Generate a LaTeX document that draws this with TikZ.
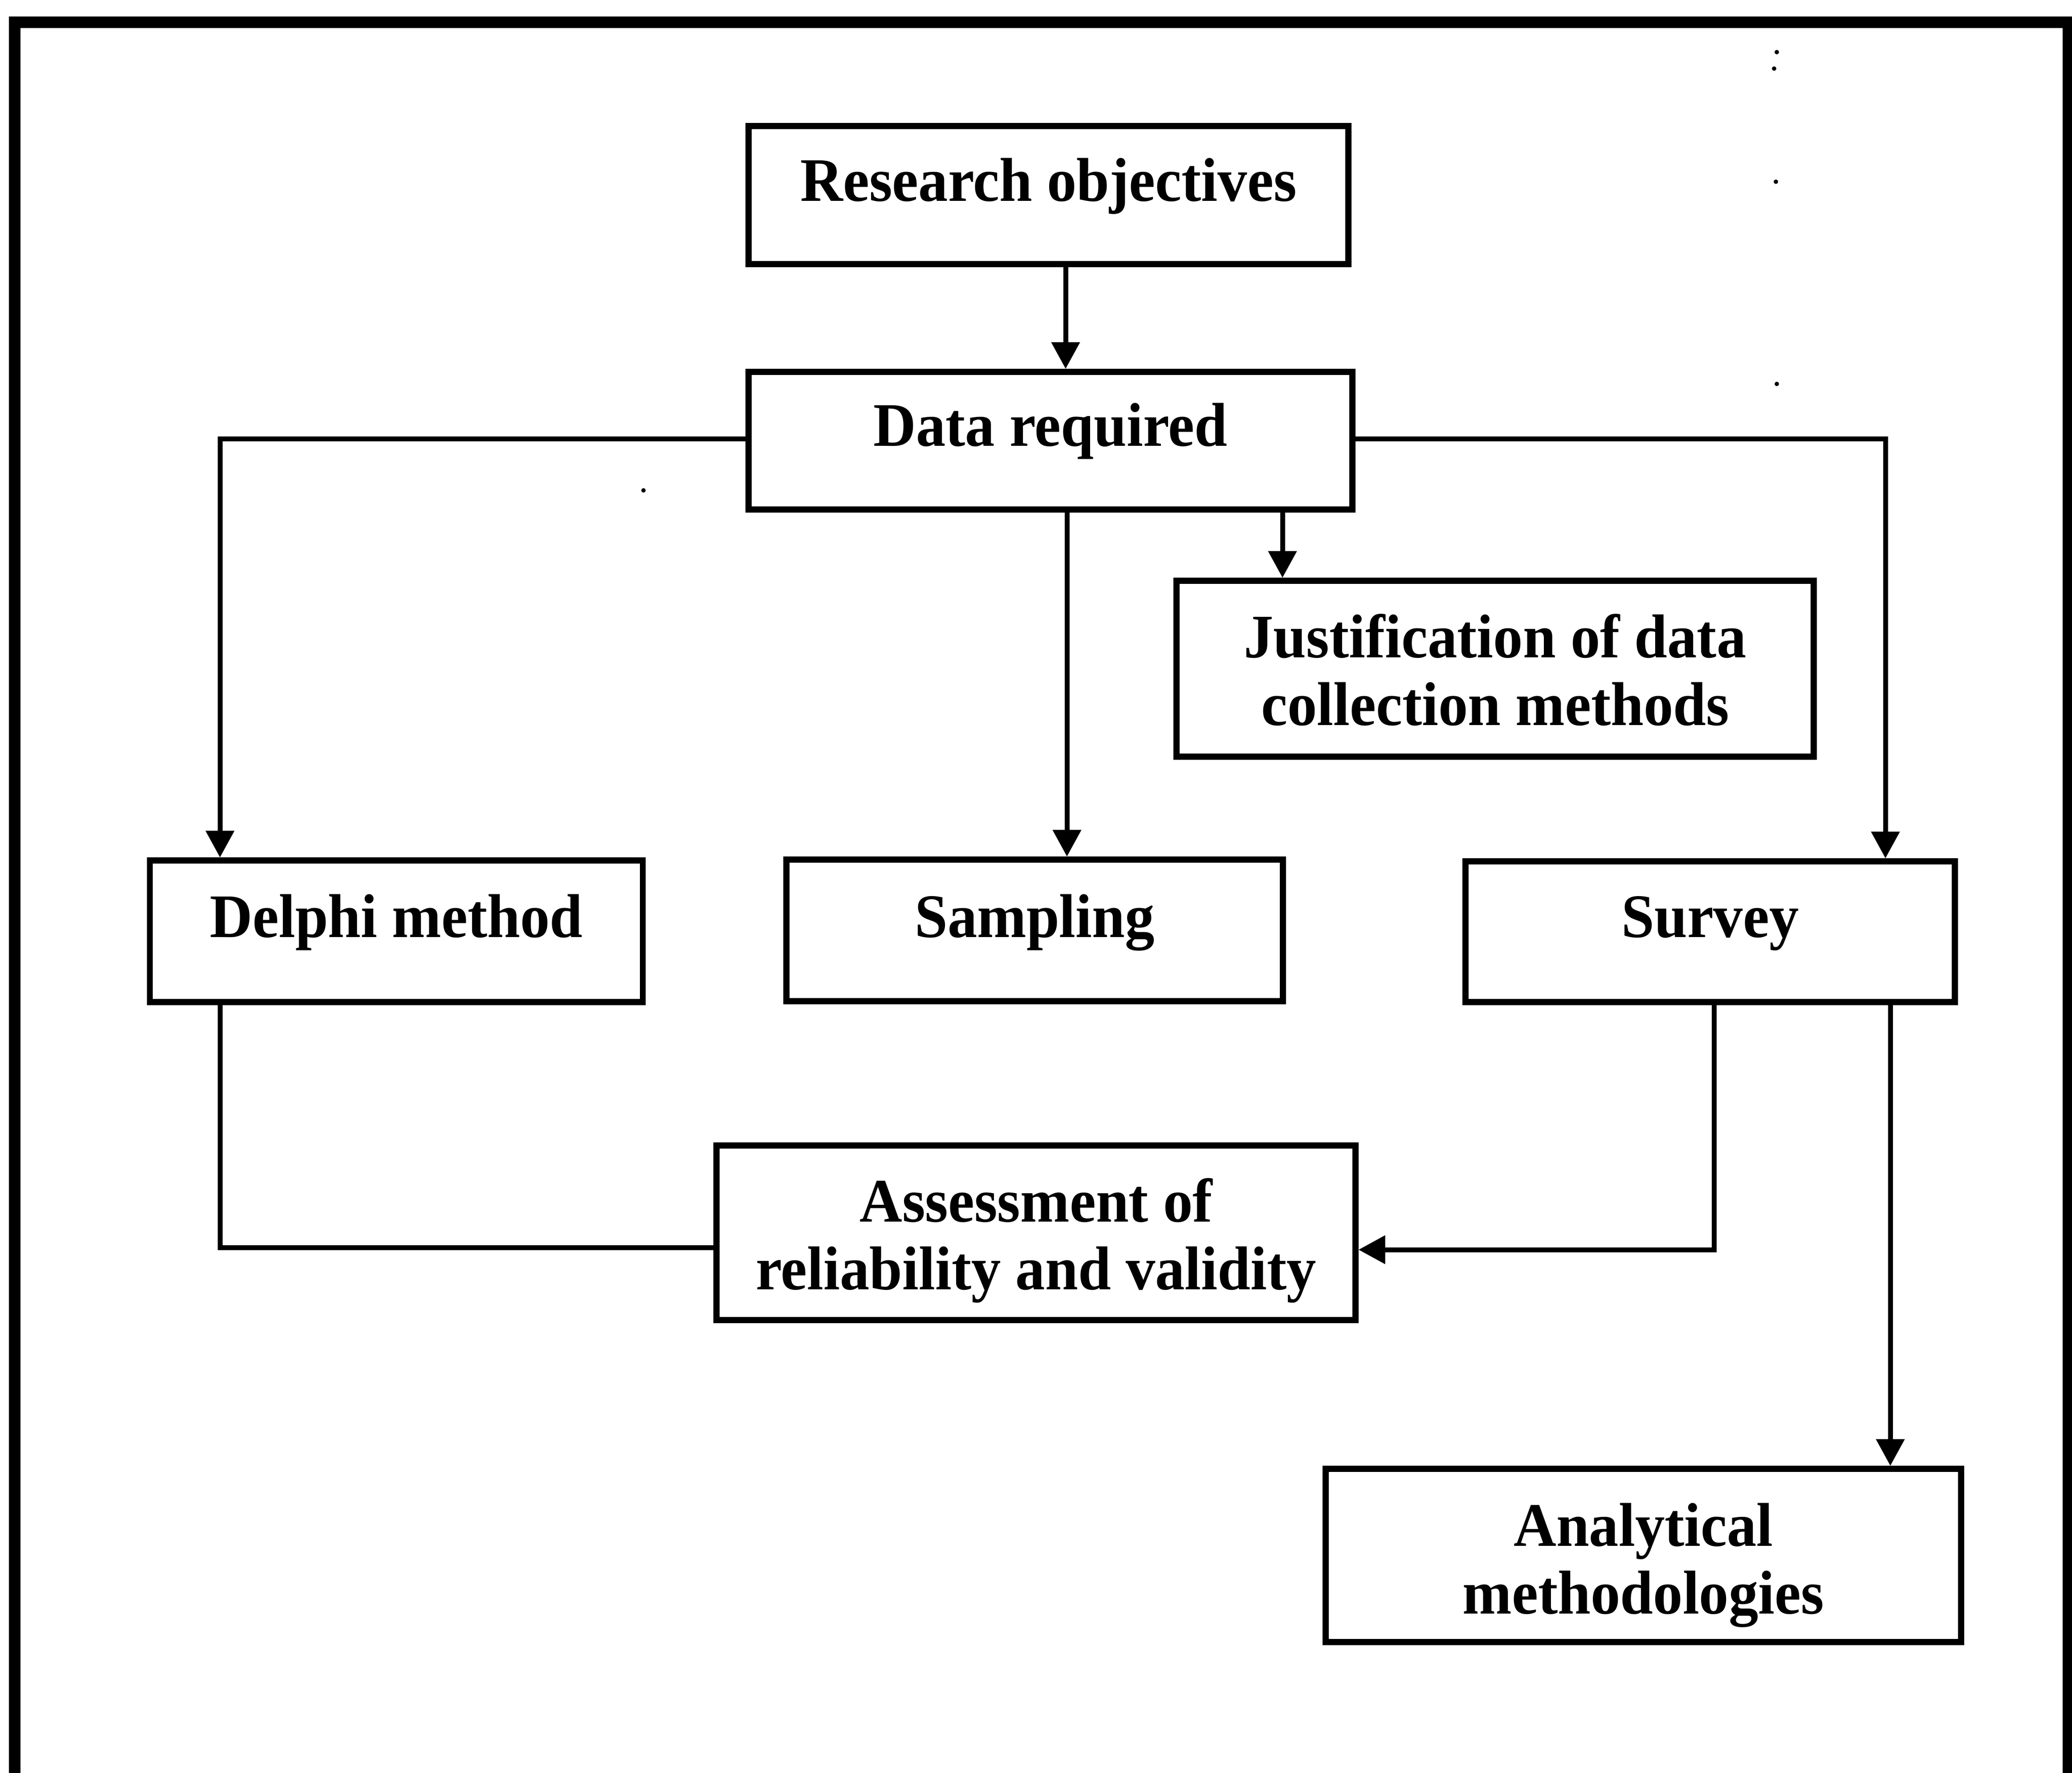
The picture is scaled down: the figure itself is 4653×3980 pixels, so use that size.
\documentclass[tikz,border=0pt]{standalone}
\usepackage{fontspec}
\setmainfont{Liberation Serif}[FakeStretch=0.955]
\usetikzlibrary{arrows.meta}
\begin{document}
\begin{tikzpicture}[x=0.1pt,y=-0.1pt,
  box/.style={draw, line width=1.35pt, inner sep=0pt},
  lbl/.style={font=\bfseries\fontsize{13.9pt}{15.2pt}\selectfont, align=center, anchor=base, inner sep=0pt},
  conn/.style={line width=1.1pt},
  arr/.style={conn, -{Triangle[length=6pt,width=6.2pt]}},
  frameline/.style={line width=2.6pt, line join=miter}]
\clip (0,0) rectangle (4653,3980);
\fill[white] (0,0) rectangle (4653,3980);
% outer frame (open at the bottom)
\draw[frameline] (33,4100) -- (33,50) -- (4645,50) -- (4645,4100);
% boxes
\node[box, minimum width=134.7pt, minimum height=31pt]   (ro)  at (2354.5,438)  {};
\node[box, minimum width=135.6pt, minimum height=30.9pt] (dr)  at (2359,989.5)  {};
\node[box, minimum width=143.1pt, minimum height=39.5pt] (jus) at (3357.5,1501.5) {};
\node[box, minimum width=110.7pt, minimum height=31.8pt] (del) at (890,2091)    {};
\node[box, minimum width=111.5pt, minimum height=31.8pt] (sam) at (2323.5,2089) {};
\node[box, minimum width=109.9pt, minimum height=31.6pt] (sur) at (3840.5,2092) {};
\node[box, minimum width=143.5pt, minimum height=39.2pt] (ass) at (2326.5,2768) {};
\node[box, minimum width=142.7pt, minimum height=38.9pt] (ana) at (3690.5,3492.5) {};
% labels (base anchor of a two-line label is its last line)
\node[lbl] (rot) at (2354.5,451)  {Research objectives};
\node[lbl] (drt) at (2359,1001)   {Data required};
\node[lbl] (jut) at (3357.5,1628) {Justification of data\\collection methods};
\node[lbl] (det) at (890,2104)    {Delphi method};
\node[lbl] (sat) at (2323.5,2104) {Sampling};
\node[lbl] (sut) at (3840.5,2104) {Survey};
\node[lbl] (ast) at (2326.5,2895) {Assessment of\\reliability and validity};
\node[lbl] (ant) at (3690.5,3623) {Analytical\\methodologies};
% connector guide coordinates
\coordinate (xro)  at (2393,0);
\coordinate (xsam) at (2396,0);
\coordinate (xjus) at (2880,0);
\coordinate (xdel) at (494,0);
\coordinate (xsur) at (4234,0);
\coordinate (xsa)  at (3849,0);
\coordinate (xsb)  at (4245,0);
\coordinate (ydr)  at (0,985);
\coordinate (yal)  at (0,2801);
\coordinate (yar)  at (0,2806);
% connectors
\draw[arr] (ro.south -| xro) -- (dr.north -| xro);
\draw[arr] (dr.south -| xsam) -- (sam.north -| xsam);
\draw[arr] (dr.south -| xjus) -- (jus.north -| xjus);
\draw[arr] (dr.west |- ydr) -- (xdel |- ydr) -- (del.north -| xdel);
\draw[arr] (dr.east |- ydr) -- (xsur |- ydr) -- (sur.north -| xsur);
\draw[conn] (del.south -| xdel) -- (xdel |- yal) -- (ass.west |- yal);
\draw[arr] (sur.south -| xsa) -- (xsa |- yar) -- (ass.east |- yar);
\draw[arr] (sur.south -| xsb) -- (ana.north -| xsb);
% stray specks of the scan
\fill (3990,117) circle (0.5pt);
\fill (3984,154) circle (0.5pt);
\fill (3988,408) circle (0.5pt);
\fill (3990,862) circle (0.5pt);
\fill (1445,1101) circle (0.5pt);
\end{tikzpicture}
\end{document}
